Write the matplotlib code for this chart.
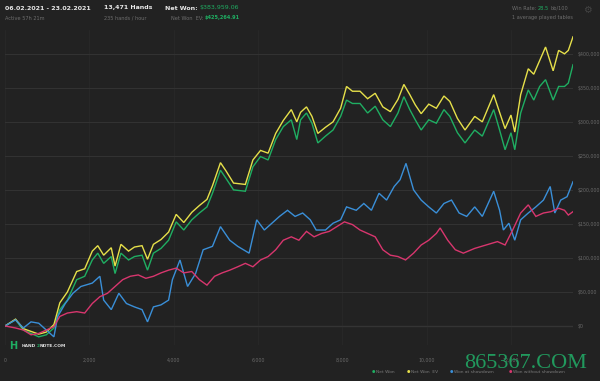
import matplotlib
matplotlib.use("Agg")
import matplotlib.pyplot as plt
from matplotlib.ticker import FuncFormatter

# hands played (x) and cumulative winnings in $k (y)
hands_won = [0, 250, 435, 617, 800, 980, 1160, 1300, 1480, 1700, 1890, 2070, 2200, 2340,
             2520, 2610, 2750, 2930, 3070, 3250, 3380, 3520, 3700, 3880, 4060, 4240, 4430,
             4610, 4790, 4920, 5110, 5240, 5420, 5700, 5880, 6060, 6240, 6420, 6600, 6790,
             6920, 7010, 7150, 7280, 7420, 7600, 7780, 7960, 8100, 8240, 8420, 8600, 8780,
             8960, 9140, 9320, 9460, 9600, 9730, 9870, 10050, 10230, 10410, 10550, 10730,
             10910, 11140, 11320, 11590, 11730, 11860, 12000, 12090, 12230, 12410, 12540,
             12680, 12820, 13000, 13130, 13270, 13360, 13471]
net_won = [0, 9, -6, -11, -16, -13, -3, 24, 38, 68, 73, 97, 107, 92, 102, 77, 107, 97, 102,
           104, 82, 107, 114, 126, 153, 141, 156, 166, 175, 195, 229, 217, 200, 198, 234, 249,
           244, 274, 293, 303, 274, 303, 313, 298, 269, 279, 288, 308, 332, 327, 327, 313, 323,
           303, 293, 313, 337, 318, 303, 288, 303, 298, 318, 308, 284, 269, 288, 279, 318, 288,
           259, 284, 259, 313, 347, 332, 352, 362, 332, 352, 352, 357, 384]
net_won_ev = [0, 10, -4, -8, -12, -9, 2, 34, 50, 80, 84, 110, 118, 104, 115, 88, 120, 110, 116,
              118, 98, 120, 127, 138, 164, 152, 167, 177, 186, 206, 240, 228, 210, 208, 244, 258,
              254, 283, 302, 318, 300, 314, 322, 308, 283, 292, 300, 320, 352, 345, 345, 334, 342,
              322, 315, 333, 355, 340, 325, 312, 326, 320, 338, 330, 305, 288, 308, 300, 340, 314,
              290, 310, 285, 340, 378, 370, 390, 410, 375, 405, 400, 405, 425]

hands_sd = [0, 250, 435, 617, 800, 980, 1160, 1250, 1430, 1610, 1800, 2070, 2250, 2340, 2520,
            2700, 2880, 3070, 3250, 3380, 3520, 3700, 3880, 3970, 4150, 4330, 4520, 4700, 4920,
            5110, 5330, 5520, 5790, 5970, 6150, 6330, 6510, 6700, 6880, 7060, 7240, 7380, 7600,
            7780, 7960, 8100, 8330, 8510, 8690, 8870, 9050, 9230, 9370, 9510, 9690, 9870, 10050,
            10230, 10410, 10590, 10770, 10950, 11140, 11320, 11590, 11730, 11820, 11950, 12090,
            12230, 12410, 12590, 12770, 12930, 13040, 13180, 13330, 13471]
won_sd = [0, 9, -3, 6, 4, -6, -16, 14, 33, 48, 58, 63, 73, 38, 24, 48, 33, 28, 24, 6, 28, 31,
          38, 68, 97, 58, 77, 112, 117, 146, 126, 117, 107, 156, 141, 151, 161, 170, 161, 166,
          156, 141, 141, 151, 156, 175, 170, 180, 170, 195, 185, 205, 215, 239, 200, 185, 175,
          166, 180, 185, 166, 161, 175, 161, 198, 170, 141, 151, 126, 156, 166, 175, 185, 205,
          166, 185, 190, 212]

hands_nsd = [0, 250, 435, 617, 800, 980, 1160, 1300, 1480, 1700, 1890, 2070, 2250, 2430, 2610,
             2790, 2970, 3160, 3340, 3520, 3700, 3880, 4060, 4240, 4430, 4610, 4790, 4970, 5150,
             5330, 5520, 5700, 5880, 6060, 6240, 6420, 6600, 6790, 6970, 7150, 7330, 7510, 7690,
             7870, 8050, 8240, 8420, 8600, 8780, 8960, 9140, 9320, 9500, 9690, 9870, 10050,
             10230, 10320, 10500, 10680, 10870, 11140, 11410, 11680, 11860, 12040, 12230, 12410,
             12590, 12770, 12950, 13130, 13270, 13360, 13471]
won_nsd = [0, -3, -6, -13, -11, -6, -1, 14, 19, 21, 19, 33, 43, 48, 58, 68, 73, 75, 70, 73, 78,
           82, 85, 78, 80, 68, 60, 73, 78, 82, 87, 92, 87, 97, 102, 112, 126, 131, 126, 139, 131,
           136, 139, 146, 153, 149, 141, 136, 131, 112, 104, 102, 97, 107, 119, 126, 136, 144,
           126, 112, 107, 114, 119, 124, 119, 141, 166, 178, 161, 166, 168, 173, 170, 163, 168]

series_names = ["Net Won", "Net Won  EV", "Won at showdown", "Won without showdown"]
series_colors = ["#1fae62", "#e6e04a", "#3a8fd8", "#d8366e"]

x_ticks = [0, 2000, 4000, 6000, 8000, 10000, 12000]
y_ticks = [0, 50000, 100000, 150000, 200000, 250000, 300000, 350000, 400000]

bg = "#222222"
W, H = 600, 381
fig = plt.figure(figsize=(W / 100, H / 100), dpi=100, facecolor=bg)
ax = fig.add_axes([5 / W, 1 - 345 / H, 568 / W, 315 / H], facecolor=bg)

data = [(hands_won, net_won), (hands_won, net_won_ev), (hands_sd, won_sd), (hands_nsd, won_nsd)]
for (hx, vals), col in zip(data, series_colors):
    ax.plot(hx, [v * 1000 for v in vals], color=col, linewidth=1.0, solid_joinstyle="miter", zorder=3)

ax.set_xlim(0, 13471)
ax.set_ylim(-28000, 435000)
ax.set_xticks(x_ticks)
ax.set_yticks(y_ticks)
ax.xaxis.set_major_formatter(FuncFormatter(lambda v, p: f"{int(v):,}"))
ax.yaxis.set_major_formatter(FuncFormatter(lambda v, p: f"${int(v):,}"))
ax.yaxis.tick_right()
ax.tick_params(axis="both", length=0, labelsize=3.4, labelcolor="#6a6a6a", pad=3)
ax.tick_params(axis="x", pad=9)
for s in ax.spines.values():
    s.set_visible(False)
ax.grid(True, axis="y", color="#333333", linewidth=0.7, zorder=0)
ax.grid(True, axis="x", color="#2a2a2a", linewidth=0.5, zorder=0)
ax.axhline(0, color="#5a5a5a", linewidth=0.8, zorder=1)

renderer = fig.canvas.get_renderer()


def run(x, y, parts, size, gap=1.5):
    """write text segments one after another, starting at pixel x, y"""
    for s, col, weight in parts:
        t = fig.text(x / W, 1 - y / H, s, color=col, fontsize=size, fontweight=weight, va="center")
        x += t.get_window_extent(renderer).width + gap


grey = "#6e6e6e"
green = "#1fae62"
white = "#e8e8e8"

# header
run(5, 8, [("06.02.2021 - 23.02.2021", white, "bold")], 4.5)
run(5, 18, [("Active 57h 21m", grey, "normal")], 3.6)
run(104, 8, [("13,471 Hands", white, "bold")], 4.5)
run(104, 18, [("235 hands / hour", grey, "normal")], 3.6)
run(165, 8, [("Net Won:", white, "bold"), ("$383,959.06", green, "normal")], 4.5)
run(171, 18, [("Net Won  EV:", grey, "normal"), ("$425,264.91", green, "bold")], 3.6)
run(512, 8, [("Win Rate:", grey, "normal"), ("28.5", green, "normal"), ("bb/100", grey, "normal")], 3.6)
run(512, 17, [("1 average played tables", grey, "normal")], 3.6)
fig.text(587 / W, 1 - 10 / H, "⚙", color="#444444", fontsize=7, ha="center", va="center")

# logo
fig.text(9 / W, 1 - 346 / H, "H", color=green, fontsize=7, fontweight="bold", va="center")
run(22, 346, [("HAND", "#dddddd", "bold"), ("2", green, "bold"), ("NOTE.COM", "#dddddd", "bold")], 3.2, gap=0.2)

# legend
leg_x = [372, 407, 450, 509]
for x0, name, col in zip(leg_x, series_names, series_colors):
    fig.text(x0 / W, 1 - 372 / H, "●", color=col, fontsize=2.8, va="center")
    fig.text((x0 + 4) / W, 1 - 372 / H, name, color="#7a7a7a", fontsize=3.2, va="center")

# watermark
fig.text(464 / W, 1 - 364 / H, "865367.COM", color="#21995d", fontsize=16,
         family=["Liberation Serif", "DejaVu Serif"], va="center", zorder=10)

fig.savefig("out.png", dpi=100, facecolor=bg)
